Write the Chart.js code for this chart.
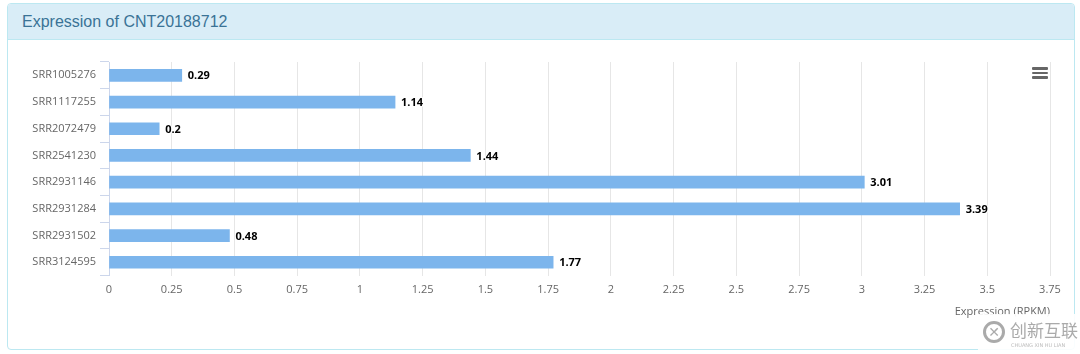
<!DOCTYPE html>
<html>
<head>
<meta charset="utf-8">
<script src="https://cdn.jsdelivr.net/npm/chart.js@4/dist/chart.umd.min.js"></script>
<style>
  html, body { margin: 0; padding: 0; background: #fff; }
  body { width: 1080px; height: 354px; position: relative; overflow: hidden; }
  .panel {
    position: absolute; left: 7px; top: 3px; width: 1066px; height: 345px;
    border: 1px solid #bce8f1; border-radius: 4px; background: #fff;
  }
  .panel-heading {
    height: 35px; background: #d9edf7; border-bottom: 1px solid #bce8f1;
    border-radius: 3px 3px 0 0; color: #3a7396;
    font: 16px "Liberation Sans", Arial, sans-serif; line-height: 35px; padding-left: 14px;
  }
  #wrap { position: absolute; left: 0; top: 0; width: 1080px; height: 354px; }
  .menu { position: absolute; left: 1032px; top: 67px; width: 16px; }
  .menu div { height: 2.5px; background: #666; margin-bottom: 2.2px; border-radius: 1px; }
  .mark {
    position: absolute; left: 978px; top: 314px; width: 102px; height: 40px;
    background: rgba(255,255,255,0.9); color: #aaa;
  }
  .mark .logo {
    position: absolute; left: 5px; top: 7px; width: 22px; height: 22px; border-radius: 50%;
    border: 3px solid #aaa; box-sizing: border-box; font: bold 14px "DejaVu Sans"; line-height: 16px; text-align: center;
  }
  .mark .cn { position: absolute; left: 32px; top: 3px; font: 17px "Noto Sans CJK SC"; color: #aaa; }
  .mark .en { position: absolute; left: 33px; top: 28px; font: 5px "DejaVu Sans"; color: #bbb; }
</style>
</head>
<body>
<div class="panel"><div class="panel-heading">Expression of CNT20188712</div></div>
<div id="wrap"><canvas id="myChart" width="1080" height="354"></canvas></div>
<div class="menu"><div></div><div></div><div></div></div>
<div class="mark"><div class="logo">✕</div><div class="cn">创新互联</div><div class="en">CHUANG XIN HU LIAN</div></div>
<script>
const ctx = document.getElementById('myChart');

const samples = ['SRR1005276', 'SRR1117255', 'SRR2072479', 'SRR2541230',
                 'SRR2931146', 'SRR2931284', 'SRR2931502', 'SRR3124595'];
const rpkm = [0.29, 1.14, 0.2, 1.44, 3.01, 3.39, 0.48, 1.77];
const xTicks = [0, 0.25, 0.5, 0.75, 1, 1.25, 1.5, 1.75, 2, 2.25, 2.5, 2.75, 3, 3.25, 3.5, 3.75];

const labelFont = '"Open Sans", "DejaVu Sans", sans-serif';

// value labels at the end of each bar
const valueLabels = {
    id: 'valueLabels',
    afterDatasetsDraw(chart) {
        const c = chart.ctx;
        const meta = chart.getDatasetMeta(0);
        c.save();
        c.font = 'bold 11px ' + labelFont;
        c.textBaseline = 'middle';
        c.textAlign = 'left';
        c.lineJoin = 'round';
        meta.data.forEach((bar, i) => {
            const txt = String(rpkm[i]);
            c.lineWidth = 2;
            c.strokeStyle = '#ffffff';
            c.strokeText(txt, bar.x + 6, bar.y + 1);
            c.fillStyle = '#000000';
            c.fillText(txt, bar.x + 6, bar.y + 1);
        });
        c.restore();
    }
};

new Chart(ctx, {
    type: 'bar',
    data: {
        labels: samples,
        datasets: [{
            label: 'Expression',
            data: rpkm,
            backgroundColor: '#7cb5ec',
            borderWidth: 0,
            barThickness: 12,
        }]
    },
    options: {
        indexAxis: 'y',
        responsive: false,
        animation: false,
        layout: {
            padding: { left: 0, top: 62, right: 30, bottom: 34 }
        },
        plugins: {
            legend: { display: false },
            tooltip: { enabled: false },
        },
        scales: {
            x: {
                min: 0,
                max: 3.75,
                afterBuildTicks: function (scale) {
                    scale.ticks = xTicks.map(v => ({ value: v }));
                },
                afterFit: function (scale) {
                    scale.height = 44.4;
                },
                grid: {
                    color: '#e6e6e6',
                    drawTicks: false,
                },
                border: { display: false },
                ticks: {
                    color: '#666666',
                    font: { family: labelFont, size: 11 },
                    padding: 8,
                    maxRotation: 0,
                    autoSkip: false,
                    callback: function (value) {
                        return String(value);
                    }
                },
                title: {
                    display: true,
                    text: 'Expression (RPKM)',
                    align: 'end',
                    color: '#666666',
                    font: { family: labelFont, size: 11 },
                    padding: { top: 0, bottom: 2 },
                }
            },
            y: {
                afterFit: function (scale) {
                    scale.width = 109;
                },
                grid: {
                    offset: true,
                    drawOnChartArea: false,
                    drawTicks: true,
                    tickLength: 9,
                    color: '#ccd6eb',
                },
                border: { display: true, color: '#ccd6eb' },
                ticks: {
                    color: '#666666',
                    font: { family: labelFont, size: 11 },
                    padding: 4,
                }
            }
        }
    },
    plugins: [valueLabels]
});
</script>
</body>
</html>
